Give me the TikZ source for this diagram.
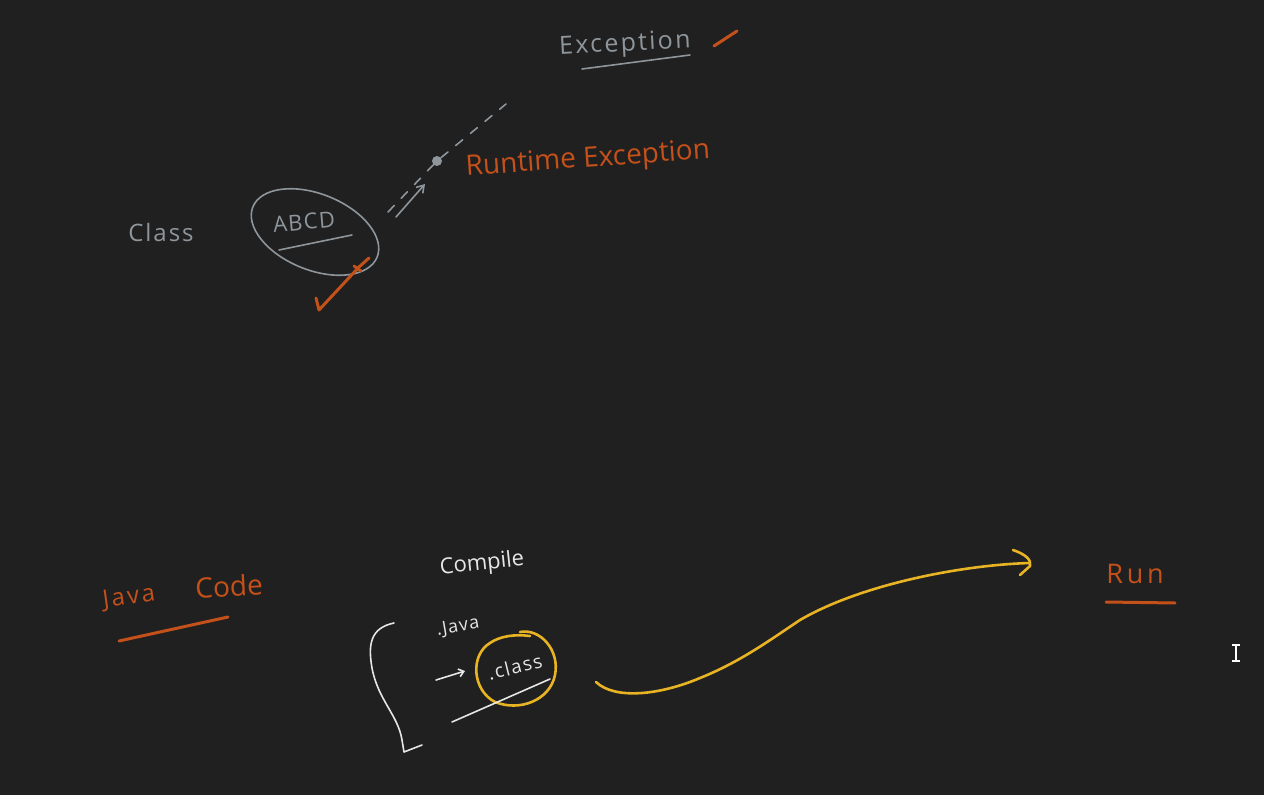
\documentclass[tikz,border=0pt]{standalone}
\usepackage{fontspec}
\setmainfont{Open Sans}
\usetikzlibrary{arrows.meta}
\definecolor{bg}{HTML}{202020}
\definecolor{chalkgray}{HTML}{8E969C}
\definecolor{chalkorange}{HTML}{C4501A}
\definecolor{chalkyellow}{HTML}{E8B424}
\definecolor{chalkwhite}{HTML}{E6E6E6}
\tikzset{
  grayink/.style={draw=chalkgray, line width=1.6pt, line cap=round, line join=round},
  orangeink/.style={draw=chalkorange, line width=3pt, line cap=round, line join=round},
  yellowink/.style={draw=chalkyellow, line width=2.6pt, line cap=round, line join=round},
  whiteink/.style={draw=chalkwhite, line width=1.6pt, line cap=round, line join=round},
  lbl/.style={inner sep=0pt, anchor=center},
}
\begin{document}
\begin{tikzpicture}[x=1pt,y=-1pt]
\fill[bg] (0,0) rectangle (1264,795);
\useasboundingbox (0,0) rectangle (1264,795);

% --- top part ---
\node[lbl, text=chalkgray, font=\fontsize{25}{28}\selectfont\addfontfeature{LetterSpace=9}, rotate=3] (exc) at (625,45) {Exception};
\coordinate (excul1) at (582,69);
\coordinate (excul2) at (690,55);
\draw[grayink] (excul1) -- (excul2);
\coordinate (excm1) at (714,46);
\coordinate (excm2) at (737,31);
\draw[orangeink] (excm1) -- (excm2);

\node[lbl, text=chalkorange, font=\fontsize{28}{30}\selectfont, rotate=4] (rte) at (588,160) {Runtime Exception};

\node[lbl, text=chalkgray, font=\fontsize{24}{28}\selectfont\addfontfeature{LetterSpace=8}] (cls) at (161,232) {Class};

\node[lbl, text=chalkgray, font=\fontsize{22}{24}\selectfont\addfontfeature{LetterSpace=6}, rotate=5] (abcd) at (304,222) {ABCD};
\draw[grayink, rotate around={-22:(315,232)}] (315,232) ellipse [x radius=67, y radius=38];
\coordinate (abul1) at (279,250);
\coordinate (abul2) at (352,235);
\draw[grayink] (abul1) -- (abul2);

\coordinate (dash0) at (388,212);
\coordinate (dot) at (437,161);
\coordinate (dash1) at (506,104);
\draw[grayink, dashed, dash pattern=on 9pt off 10pt] (dash0) -- (dot) -- (dash1);
\fill[chalkgray] (dot) circle (5);
\coordinate (ar0) at (396,217);
\coordinate (ar1) at (425,184);
\draw[grayink, -{Straight Barb[length=7pt,width=9pt]}] (ar0) -- (ar1);

% orange check mark
\coordinate (tk0) at (316,298);
\coordinate (tk1) at (319,310);
\coordinate (tk2) at (359,267);
\coordinate (tk3) at (369,258);
\draw[orangeink] (tk0) -- (tk1) -- (tk2) -- (tk3);
\draw[orangeink] (354,266) -- (361,271);

% --- bottom part ---
\node[lbl, text=chalkorange, font=\fontsize{24}{28}\selectfont\addfontfeature{LetterSpace=10}, rotate=8] (java) at (129,598) {Java};
\node[lbl, text=chalkorange, font=\fontsize{28}{32}\selectfont, rotate=3] (code) at (229,586) {Code};
\coordinate (jcul1) at (119,641);
\coordinate (jcul2) at (228,617);
\draw[orangeink] (jcul1) -- (jcul2);

\node[lbl, text=chalkwhite, font=\fontsize{22}{26}\selectfont, rotate=6] (comp) at (482,564) {Compile};

\draw[whiteink] (394,623) .. controls (370,628) and (368,645) .. (372,668)
  .. controls (378,700) and (398,715) .. (402,740) -- (404,752) -- (422,745);

\node[lbl, text=chalkwhite, font=\fontsize{18}{22}\selectfont\addfontfeature{LetterSpace=6}, rotate=10] (jv) at (458,627) {.Java};
\node[lbl, text=chalkwhite, font=\fontsize{19}{22}\selectfont\addfontfeature{LetterSpace=8}, rotate=14] (clsf) at (515,667) {.class};
\coordinate (wa0) at (436,680);
\coordinate (wa1) at (465,671);
\draw[whiteink, -{Straight Barb[length=5pt,width=8pt]}] (wa0) -- (wa1);
\draw[yellowink] (520,632) .. controls (540,628) and (560,650) .. (555,675)
  .. controls (550,700) and (520,712) .. (495,702)
  .. controls (472,690) and (470,655) .. (490,643)
  .. controls (500,636) and (515,634) .. (530,636);
\coordinate (wl0) at (452,722);
\coordinate (wl1) at (550,679);
\draw[whiteink] (wl0) -- (wl1);

\coordinate (cv0) at (596,682);
\coordinate (cv1) at (1030,563);
\draw[yellowink] (cv0) .. controls (615,700) and (660,695) .. (700,678)
  .. controls (740,662) and (770,640) .. (800,620)
  .. controls (860,585) and (960,565) .. (cv1);
\draw[yellowink] (1013,550) .. controls (1025,554) and (1032,560) .. (1030,566) -- (1020,575);

\node[lbl, text=chalkorange, font=\fontsize{27}{30}\selectfont\addfontfeature{LetterSpace=14}] (run) at (1135,574) {Run};
\coordinate (rul1) at (1106,602);
\coordinate (rul2) at (1175,603);
\draw[orangeink] (rul1) -- (rul2);

% text cursor
\coordinate (cur) at (1236,653);
\draw[white, line width=1.2pt] (1236,645) -- (1236,661) (1232,645) -- (1240,645) (1232,661) -- (1240,661);
\end{tikzpicture}
\end{document}
